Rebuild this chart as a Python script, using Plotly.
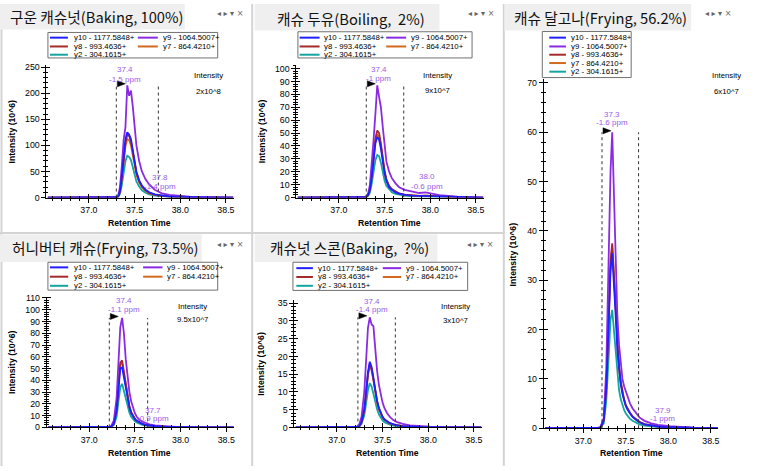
import plotly.graph_objects as go

W, H = 759, 471

# ---------------- data ----------------
rt = [36.55, 37.00, 37.15, 37.20, 37.24, 37.27, 37.30, 37.32, 37.34, 37.36, 37.38, 37.40,
      37.42, 37.44, 37.46, 37.48, 37.50, 37.52, 37.55, 37.58, 37.62, 37.66, 37.72, 37.80,
      37.88, 37.95, 38.02, 38.10, 38.30, 38.58]

ions = ["y10 - 1177.5848+", "y9 - 1064.5007+", "y8 - 993.4636+", "y7 - 864.4210+", "y2 - 304.1615+"]
ion_colors = ["#1f1fff", "#8a2be2", "#a52a2a", "#d2691e", "#14a5a0"]

titles = ["구운 캐슈넛(Baking, 100%)", "캐슈 두유(Boiling,\u00a0 2%)", "캐슈 달고나(Frying, 56.2%)",
          "허니버터 캐슈(Frying, 73.5%)", "캐슈넛 스콘(Baking,\u00a0 ?%)"]
intensity_scale = ["2x10^8", "9x10^7", "6x10^7", "9.5x10^7", "3x10^7"]
peak_labels = [["37.4", "-1.5 ppm"], ["37.4", "-1 ppm"], ["37.3", "-1.6 ppm"], ["37.4", "-1.1 ppm"], ["37.4", "-1.4 ppm"]]
tail_labels = [["37.8", "-1.4 ppm"], ["38.0", "-0.6 ppm"], ["37.9", "-1 ppm"], ["37.7", "-0.9 ppm"], None]
boundaries = [[37.30, 37.76], [37.30, 37.71], [37.22, 37.65], [37.22, 37.64], [37.23, 37.64]]

p1_y10 = [0,0,0,0,0,0,0.5,2,12,40,80,112,125,121,112,92,68,50,33,23,15,10,6,3.5,2,1.5,1,0.6,0.2,0]
p1_y9  = [0,0,0,0,0,0,0.5,3,20,60,110,135,215,195,205,175,130,100,70,50,35,25,15,8,5,3.5,2.5,1.5,0.5,0]
p1_y8  = [0,0,0,0,0,0,0.5,2,11,38,76,106,120,118,108,88,64,47,31,21,14,9,5.5,3,2,1.4,0.9,0.5,0.2,0]
p1_y7  = [0,0,0,0,0,0,0.5,2,10,35,70,98,112,110,100,82,60,44,29,20,13,8.5,5,3,1.8,1.3,0.8,0.5,0.2,0]
p1_y2  = [0,0,0,0,0,0,0.3,1.5,7,24,50,70,80,78,72,58,42,31,21,14,9,6,3.5,2,1.2,0.9,0.6,0.3,0.1,0]

p2_y10 = [0,0,0,0,0,0,0.5,2,6,16,30,42,47,45,38,28,19,13,8,6,4,3,2,1.5,1.3,1.5,1.2,0.8,0.3,0]
p2_y9  = [0,0,0,0,0,0,1,3,10,25,45,65,87,78,70,55,38,28,20,15,11,8,6,4.5,3.5,4,3,1.8,0.6,0]
p2_y8  = [0,0,0,0,0,0,0.5,2,7,18,33,46,52,50,42,31,21,14,9,6.5,4.5,3.2,2.2,1.6,1.3,1.5,1.2,0.8,0.3,0]
p2_y7  = [0,0,0,0,0,0,0.5,2,6,17,31,44,49,47,40,29,20,13,8.5,6,4.2,3,2,1.5,1.2,1.4,1.1,0.7,0.3,0]
p2_y2  = [0,0,0,0,0,0,0.3,1.2,4,11,21,29,33,32,27,20,13,9,6,4,2.8,2,1.4,1,0.8,1,0.8,0.5,0.2,0]

p3_y10 = [0,0,0,0.1,1.5,8,22,32,35.5,30,23,16,12,9,7,5.5,4.5,3.8,3,2.3,1.7,1.2,0.8,0.5,0.35,0.25,0.2,0.15,0.05,0]
p3_y9  = [0,0,0,0.2,2,12,35,52,60,46,33,23,17,13,10,8.5,7.5,6.5,5,4,3,2.2,1.5,1,0.7,0.5,0.4,0.3,0.1,0]
p3_y8  = [0,0,0,0.1,1.6,8.5,23,34,37.5,31.5,24,17,12.5,9.5,7.3,5.8,4.7,4,3.1,2.4,1.8,1.3,0.85,0.55,0.4,0.3,0.2,0.15,0.05,0]
p3_y7  = [0,0,0,0.1,1.5,8.3,22.5,33,37,31,23.5,16.5,12.3,9.3,7.2,5.7,4.6,3.9,3,2.3,1.7,1.2,0.8,0.5,0.35,0.25,0.2,0.15,0.05,0]
p3_y2  = [0,0,0,0.1,1,5.5,15,22,24,20,15,10.5,7.8,5.9,4.6,3.7,3,2.5,1.9,1.5,1.1,0.8,0.55,0.35,0.25,0.2,0.15,0.1,0.05,0]

p4_y10 = [0,0,0,0,0.5,3,14,32,50,51,42,32,23,17,12,9,7,5.5,4,3,2,1.5,1,0.6,0.4,0.3,0.2,0.15,0.05,0]
p4_y9  = [0,0,0,0,1,6,25,55,85,93,80,58,42,30,22,16,12,9,6.5,5,3.5,2.5,1.6,1,0.6,0.4,0.3,0.2,0.1,0]
p4_y8  = [0,0,0,0,0.6,3.5,16,36,55,57,47,35,25,18,13,9.5,7.3,5.8,4.2,3.1,2.1,1.5,1,0.6,0.4,0.3,0.2,0.15,0.05,0]
p4_y7  = [0,0,0,0,0.5,3.3,15,34,53,55,45,33.5,24,17.5,12.5,9.2,7,5.6,4,3,2,1.5,1,0.6,0.4,0.3,0.2,0.15,0.05,0]
p4_y2  = [0,0,0,0,0.3,2,9,22,34,37,31,23.5,17,12.5,9,6.8,5.2,4.1,3,2.2,1.5,1.1,0.7,0.45,0.3,0.2,0.15,0.1,0.05,0]

p5_y10 = [0,0,0,0,0.2,1.5,5,10,15.5,18.5,17,14,10.5,7.5,5.5,4,3,2.3,1.7,1.2,0.9,0.6,0.4,0.25,0.15,0.1,0.1,0.05,0,0]
p5_y9  = [0,0,0,0,0.5,3,10,20,28,31,29,28.5,22,16,12,9,7,5.5,4,3,2,1.5,1,0.6,0.4,0.3,0.2,0.15,0.05,0]
p5_y8  = [0,0,0,0,0.2,1.4,4.8,9.7,15,18,16.5,13.6,10.2,7.3,5.3,3.9,2.9,2.2,1.6,1.2,0.85,0.6,0.4,0.25,0.15,0.1,0.1,0.05,0,0]
p5_y7  = [0,0,0,0,0.2,1.4,4.7,9.5,14.6,17.5,16,13.2,9.9,7.1,5.2,3.8,2.8,2.2,1.6,1.1,0.8,0.55,0.35,0.2,0.15,0.1,0.1,0.05,0,0]
p5_y2  = [0,0,0,0,0.1,1,3.4,6.8,10.5,12.5,11.5,9.5,7.1,5.1,3.7,2.7,2,1.5,1.1,0.8,0.55,0.4,0.25,0.15,0.1,0.1,0.05,0.05,0,0]

panel_series = [
    [p1_y10, p1_y9, p1_y8, p1_y7, p1_y2],
    [p2_y10, p2_y9, p2_y8, p2_y7, p2_y2],
    [p3_y10, p3_y9, p3_y8, p3_y7, p3_y2],
    [p4_y10, p4_y9, p4_y8, p4_y7, p4_y2],
    [p5_y10, p5_y9, p5_y8, p5_y7, p5_y2],
]

x_range = [36.535, 38.585]
y_ranges = [[0, 254.3], [0, 102.5], [0, 70.9], [0, 111], [0, 35.9]]
y_dticks = [50, 10, 10, 10, 5]
y_minor = [10, 2, 2, 2, 1]

# ---------------- layout geometry (pixels) ----------------
areas = [
    (46.5, 234.0, 62.0, 197.3),
    (296.8, 484.3, 62.5, 197.3),
    (544.5, 719.0, 76.0, 432.5),
    (46.8, 234.3, 298.5, 431.6),
    (294.8, 482.3, 301.7, 431.7),
]
title_boxes = [(0, 0, 185, 26), (255, 0, 440, 27), (505, 0, 692, 27), (0, 235, 202, 263), (255, 235, 438, 263)]
title_pos = [(8, 13), (275, 14.5), (513, 13.5), (10, 248), (268, 248)]
icon_pos = [(230, 10), (482, 10), (719, 10), (230, 245), (481, 245)]
legend_boxes = [(48, 29, 218, 55), (298.3, 28.3, 472.7, 55), (543, 28, 632, 75),
                (48, 263.3, 218, 291.7), (293.3, 263.3, 468.3, 292)]
legend_cols = [
    [(50, 68, 71.7), (138, 158, 161)],
    [(300, 320, 322.7), (386.7, 406.7, 409.3)],
    [(550, 566.7, 570)],
    [(50, 68.3, 71.7), (143.3, 162.7, 165)],
    [(296.7, 313.3, 316.7), (383.3, 401.7, 405)],
]
legend_rows = [
    [34.3, 43.3, 51.7],
    [34.3, 43.3, 51.7],
    [34.3, 43.3, 51.7, 60.2, 69],
    [268.5, 278.0, 287.3],
    [269.3, 278.3, 287.3],
]
intensity_pos = [(209, 73, 89), (438, 73, 88.3), (727.5, 73, 89.7), (193, 308, 322), (456, 308.3, 322.3)]
peak_label_pos = [(125, 67, 76.5), (379, 67, 76), (613, 112.7, 121.3), (124, 302.7, 311.5), (372.5, 303.3, 311.5)]
tail_label_pos = [(160, 177, 186), (428, 176, 185.7), (663.5, 414, 422.7), (153, 414.3, 422.3), None]
ytitle_pos = [(12, 130), (262, 130), (514, 255), (12, 365), (261, 367)]
xtitle_pos = [(140, 223), (390, 223), (632, 458), (140, 458), (388, 458)]


def px(x):
    return x / W


def py(y):
    return 1 - y / H


fig = go.Figure()
shapes = []
annotations = []

TICKFONT = dict(family="Liberation Sans, Arial, sans-serif", size=8.8, color="black")
SMALLFONT = dict(family="Liberation Sans, Arial, sans-serif", size=7.8, color="black")
PURPLE_TXT = "#9a5ce6"

# panel separators
for (x0, y0, x1, y1) in [(1.5, 0, 1.5, H), (252.5, 0, 252.5, H), (504.5, 0, 504.5, H), (0, 233.5, 504.5, 233.5)]:
    shapes.append(dict(type="line", xref="paper", yref="paper", x0=px(x0), x1=px(x1), y0=py(y0), y1=py(y1),
                       line=dict(color="#d4d4d4", width=2), layer="below"))

order = [4, 3, 2, 1, 0]  # draw y2 first, y10 last


def axname(n, letter):
    return letter if n == 1 else f"{letter}{n}"


for i in range(5):
    n = i + 1
    L, R, T, B = areas[i]
    xa, ya = axname(n, "x"), axname(n, "y")
    xo, yo = axname(n + 5, "x"), axname(n + 5, "y")
    for k in order:
        fig.add_trace(go.Scatter(x=rt, y=panel_series[i][k], mode="lines", xaxis=xa, yaxis=ya,
                                 line=dict(color=ion_colors[k], width=1.8), showlegend=False,
                                 hoverinfo="skip"))
    # invisible trace so the overlay (inside-tick) axes are drawn
    fig.add_trace(go.Scatter(x=[None], y=[None], mode="lines", xaxis=xo, yaxis=yo, showlegend=False,
                             hoverinfo="skip"))

    common = dict(showgrid=False, zeroline=False, fixedrange=True, tickcolor="black", tickwidth=1)
    fig.layout[f"xaxis{'' if n == 1 else n}"] = dict(
        domain=[px(L), px(R)], anchor=ya, range=x_range, showline=True, linecolor="black", linewidth=1,
        ticks="outside", ticklen=4, tick0=37.0, dtick=0.5, tickformat=".1f", tickfont=TICKFONT,
        minor=dict(dtick=0.1, tick0=37.0, ticks="outside", ticklen=2, tickcolor="black", showgrid=False),
        **common)
    fig.layout[f"yaxis{'' if n == 1 else n}"] = dict(
        domain=[py(B), py(T)], anchor=xa, range=y_ranges[i], showline=True, linecolor="black", linewidth=1,
        ticks="outside", ticklen=4, tick0=0, dtick=y_dticks[i], tickfont=TICKFONT,
        minor=dict(dtick=y_minor[i], tick0=0, ticks="outside", ticklen=2, tickcolor="black", showgrid=False),
        **common)
    # overlay axes carrying the inner halves of the crossing ticks
    fig.layout[f"xaxis{n + 5}"] = dict(
        overlaying=xa, anchor=yo, range=x_range, showline=False, showticklabels=False,
        ticks="inside", ticklen=4, tick0=37.0, dtick=0.5,
        minor=dict(dtick=0.1, tick0=37.0, ticks="inside", ticklen=2, tickcolor="black", showgrid=False),
        **common)
    fig.layout[f"yaxis{n + 5}"] = dict(
        overlaying=ya, anchor=xo, range=y_ranges[i], showline=False, showticklabels=False,
        ticks="inside", ticklen=4, tick0=0, dtick=y_dticks[i],
        minor=dict(dtick=y_minor[i], tick0=0, ticks="inside", ticklen=2, tickcolor="black", showgrid=False),
        **common)

    # boundaries (dotted) from 0 to max of y9
    top = max(panel_series[i][1])
    for b in boundaries[i]:
        shapes.append(dict(type="line", xref=xa, yref=ya, x0=b, x1=b, y0=0, y1=top,
                           line=dict(color="#333333", width=1, dash="dot")))
    shapes.append(dict(type="path", xref=xa, yref=ya, xsizemode="pixel", ysizemode="pixel",
                       xanchor=boundaries[i][0], yanchor=top, path="M1,4.5 L1,-1.5 L9,1.5 Z",
                       fillcolor="black", line=dict(color="black", width=0.5)))

    # title box
    x0, y0, x1, y1 = title_boxes[i]
    shapes.append(dict(type="rect", xref="paper", yref="paper", x0=px(x0), x1=px(x1), y0=py(y1), y1=py(y0),
                       fillcolor="#efefef", line=dict(width=0)))
    tx, ty = title_pos[i]
    annotations.append(dict(xref="paper", yref="paper", x=px(tx), y=py(ty), text=titles[i], showarrow=False,
                            xanchor="left", yanchor="middle",
                            font=dict(family="Noto Sans CJK KR", size=14.7, color="#111111")))
    ix, iy = icon_pos[i]
    annotations.append(dict(xref="paper", yref="paper", x=px(ix), y=py(iy), text="◂ ▸ ▾ ×", showarrow=False,
                            xanchor="center", yanchor="middle",
                            font=dict(family="DejaVu Sans", size=8, color="#666666")))

    # legend box
    x0, y0, x1, y1 = legend_boxes[i]
    shapes.append(dict(type="rect", xref="paper", yref="paper", x0=px(x0), x1=px(x1), y0=py(y1), y1=py(y0),
                       fillcolor="white", line=dict(color="#707070", width=1)))
    cols = legend_cols[i]
    rows = legend_rows[i]
    for k in range(5):
        c = k % len(cols)
        r = k // len(cols)
        lx0, lx1, txx = cols[c]
        yy = rows[r]
        shapes.append(dict(type="line", xref="paper", yref="paper", x0=px(lx0), x1=px(lx1), y0=py(yy), y1=py(yy),
                           line=dict(color=ion_colors[k], width=2)))
        annotations.append(dict(xref="paper", yref="paper", x=px(txx), y=py(yy), text=ions[k], showarrow=False,
                                xanchor="left", yanchor="middle", font=SMALLFONT))

    # intensity text
    ix, iy1, iy2 = intensity_pos[i]
    annotations.append(dict(xref="paper", yref="paper", x=px(ix), y=py(iy1), text="Intensity", showarrow=False,
                            xanchor="center", yanchor="middle", font=SMALLFONT))
    annotations.append(dict(xref="paper", yref="paper", x=px(ix), y=py(iy2), text=intensity_scale[i],
                            showarrow=False, xanchor="center", yanchor="middle", font=SMALLFONT))

    # peak labels
    lx, ly1, ly2 = peak_label_pos[i]
    for txt, yy in zip(peak_labels[i], [ly1, ly2]):
        annotations.append(dict(xref="paper", yref="paper", x=px(lx), y=py(yy), text=txt, showarrow=False,
                                xanchor="center", yanchor="middle",
                                font=dict(family="Liberation Sans, Arial", size=8, color=PURPLE_TXT)))
    if tail_labels[i] is not None:
        lx, ly1, ly2 = tail_label_pos[i]
        for txt, yy in zip(tail_labels[i], [ly1, ly2]):
            annotations.append(dict(xref="paper", yref="paper", x=px(lx), y=py(yy), text=txt, showarrow=False,
                                    xanchor="center", yanchor="middle",
                                    font=dict(family="Liberation Sans, Arial", size=8, color=PURPLE_TXT)))

    # axis titles
    ax_, ay_ = ytitle_pos[i]
    annotations.append(dict(xref="paper", yref="paper", x=px(ax_), y=py(ay_), text="<b>Intensity (10^6)</b>",
                            showarrow=False, textangle=-90, xanchor="center", yanchor="middle",
                            font=dict(family="Liberation Sans, Arial", size=8.7, color="black")))
    ax_, ay_ = xtitle_pos[i]
    annotations.append(dict(xref="paper", yref="paper", x=px(ax_), y=py(ay_), text="<b>Retention Time</b>",
                            showarrow=False, xanchor="center", yanchor="middle",
                            font=dict(family="Liberation Sans, Arial", size=8.7, color="black")))

fig.update_layout(width=W, height=H, margin=dict(l=0, r=0, t=0, b=0), paper_bgcolor="white",
                  plot_bgcolor="rgba(0,0,0,0)", shapes=shapes, annotations=annotations, showlegend=False)

fig.write_html("out.html", config=dict(displayModeBar=False))
